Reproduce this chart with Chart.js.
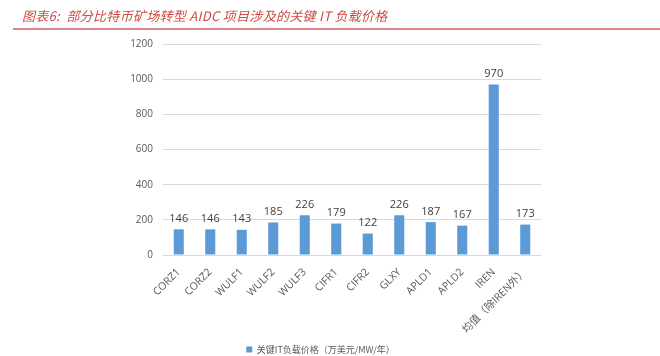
<!DOCTYPE html>
<html><head><meta charset="utf-8">
<script src="https://cdn.jsdelivr.net/npm/chart.js@4"></script>
<style>
html,body{margin:0;padding:0;background:#fff;}
#wrap{position:relative;width:660px;height:356px;overflow:hidden;}
#title{position:absolute;left:22px;top:6px;font:italic 13px "Noto Sans CJK SC","DejaVu Serif",serif;color:#cf4a44;white-space:nowrap;letter-spacing:0.3px;}
#rule{position:absolute;left:13px;top:28px;width:647px;height:2px;background:#d9808a;}
canvas{position:absolute;left:0;top:0;}
</style></head>
<body><div id="wrap">
<canvas id="c" width="660" height="356"></canvas>
<div id="title">图表6:&nbsp; 部分比特币矿场转型 AIDC 项目涉及的关键 IT 负载价格</div>
<div id="rule"></div>
</div>
<script>
const categories = ["CORZ1","CORZ2","WULF1","WULF2","WULF3","CIFR1","CIFR2","GLXY","APLD1","APLD2","IREN","均值（除IREN外）"];
const values = [146,146,143,185,226,179,122,226,187,167,970,173];
const seriesName = "关键IT负载价格（万美元/MW/年）";
const yTicks = [0,200,400,600,800,1000,1200];

const labelPlugin = {
  id:'vals',
  afterDatasetsDraw(chart){
    const ctx = chart.ctx;
    const meta = chart.getDatasetMeta(0);
    ctx.save();
    ctx.font = '11px "Open Sans","DejaVu Sans",sans-serif';
    ctx.fillStyle = '#404040';
    ctx.textAlign = 'center';
    ctx.textBaseline = 'bottom';
    meta.data.forEach((bar,i)=>{
      ctx.fillText(String(values[i]), bar.x, bar.y - 5);
    });
    ctx.restore();
  }
};

new Chart(document.getElementById('c'), {
  type:'bar',
  data:{labels:categories, datasets:[{label:seriesName, data:values, backgroundColor:'#5b9bd5', borderWidth:0, categoryPercentage:1.0, barPercentage:0.32}]},
  options:{
    responsive:false, animation:false,
    layout:{padding:{left:100,right:119,top:44,bottom:-8}},
    plugins:{
      legend:{position:'bottom', labels:{boxWidth:6, boxHeight:6, padding:2, color:'#595959', font:{size:9, family:'"Noto Sans CJK SC","DejaVu Sans",sans-serif'}}},
      tooltip:{enabled:false}
    },
    scales:{
      y:{min:0,max:1200,
        afterBuildTicks(s){ s.ticks = yTicks.map(v=>({value:v})); },
        afterFit(s){ s.width = 63; },
        ticks:{color:'#595959', font:{size:10, family:'"Open Sans","DejaVu Sans",sans-serif'}, padding:10, callback:(v)=>String(v)},
        grid:{color:'#d9d9d9', drawTicks:false},
        border:{display:false}
      },
      x:{
        afterFit(s){ s.height = 88; },
        ticks:{color:'#595959', minRotation:45, maxRotation:45, autoSkip:false, font:{size:10.5, family:'"Open Sans","Noto Sans CJK SC","DejaVu Sans",sans-serif'}},
        grid:{display:false},
        border:{display:false}
      }
    }
  },
  plugins:[labelPlugin]
});
</script>
</body></html>
